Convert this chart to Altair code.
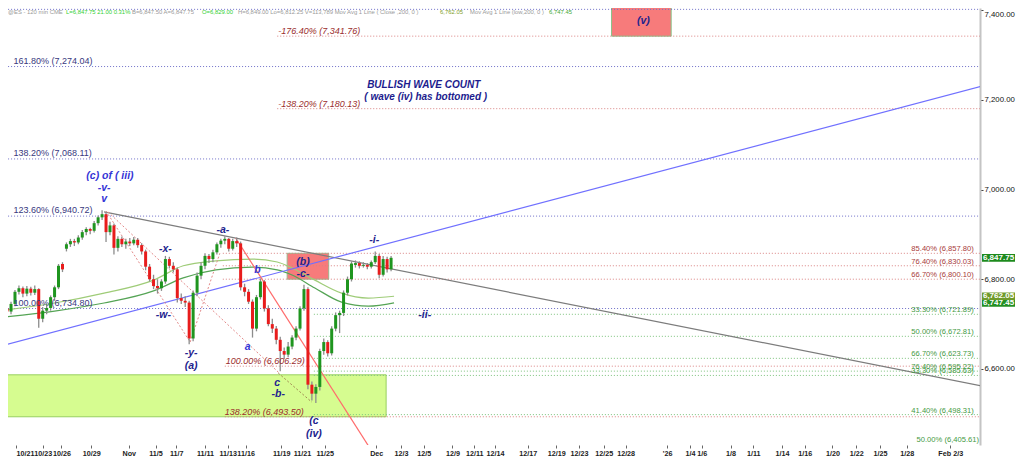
import json
import altair as alt
import pandas as pd

# ---------------- data ----------------
bar_open = [6735, 6728, 6745, 6772, 6780, 6768, 6779, 6770, 6778, 6712,
            6730, 6736, 6760, 6782, 6834, 6868, 6878, 6885, 6882, 6893,
            6905, 6912, 6908, 6925, 6938, 6945, 6905, 6920, 6870, 6890,
            6878, 6884, 6880, 6888, 6876, 6862, 6828, 6800, 6785, 6780,
            6795, 6845, 6830, 6822, 6758, 6752, 6748, 6668, 6770, 6808,
            6830, 6852, 6845, 6860, 6878, 6886, 6890, 6868, 6885, 6880,
            6782, 6772, 6750, 6690, 6760, 6795, 6735, 6700, 6690, 6665,
            6640, 6632, 6650, 6670, 6690, 6735, 6778, 6565, 6545, 6560,
            6640, 6660, 6635, 6690, 6720, 6725, 6770, 6800, 6832, 6836,
            6830, 6832, 6828, 6838, 6852, 6810, 6845, 6822]
bar_high = [6742, 6750, 6776, 6786, 6784, 6785, 6783, 6786, 6780, 6738,
            6742, 6764, 6786, 6834, 6838, 6882, 6890, 6890, 6898, 6910,
            6916, 6915, 6930, 6942, 6954, 6950, 6928, 6924, 6896, 6895,
            6890, 6892, 6894, 6892, 6880, 6866, 6834, 6810, 6800, 6800,
            6852, 6850, 6838, 6826, 6768, 6762, 6752, 6775, 6815, 6838,
            6858, 6856, 6866, 6882, 6890, 6896, 6892, 6890, 6893, 6884,
            6790, 6778, 6755, 6765, 6802, 6798, 6742, 6712, 6696, 6672,
            6648, 6660, 6675, 6695, 6740, 6788, 6782, 6572, 6566, 6645,
            6668, 6664, 6695, 6726, 6730, 6775, 6806, 6840, 6842, 6840,
            6838, 6836, 6842, 6862, 6856, 6852, 6850, 6852]
bar_low = [6718, 6722, 6740, 6766, 6760, 6762, 6764, 6765, 6692, 6704,
           6722, 6730, 6752, 6778, 6816, 6862, 6872, 6874, 6878, 6888,
           6898, 6900, 6904, 6920, 6932, 6883, 6898, 6855, 6862, 6872,
           6868, 6874, 6876, 6870, 6855, 6820, 6795, 6778, 6768, 6774,
           6790, 6824, 6815, 6748, 6745, 6738, 6655, 6662, 6762, 6800,
           6822, 6836, 6838, 6855, 6870, 6878, 6862, 6864, 6872, 6775,
           6762, 6745, 6670, 6684, 6755, 6728, 6695, 6680, 6655, 6595,
           6622, 6626, 6644, 6664, 6686, 6730, 6555, 6530, 6524, 6552,
           6632, 6628, 6630, 6684, 6680, 6718, 6764, 6795, 6826, 6824,
           6826, 6822, 6824, 6834, 6802, 6806, 6815, 6818]
bar_close = [6728, 6745, 6772, 6780, 6768, 6779, 6770, 6778, 6712, 6730,
             6736, 6760, 6782, 6830, 6822, 6878, 6885, 6882, 6893, 6905,
             6912, 6908, 6925, 6938, 6945, 6905, 6920, 6870, 6890, 6878,
             6884, 6880, 6888, 6876, 6862, 6828, 6800, 6785, 6780, 6795,
             6845, 6830, 6822, 6758, 6752, 6748, 6668, 6770, 6808, 6830,
             6852, 6845, 6860, 6878, 6886, 6890, 6868, 6885, 6880, 6782,
             6772, 6750, 6690, 6760, 6795, 6735, 6700, 6690, 6665, 6640,
             6632, 6650, 6670, 6690, 6735, 6778, 6565, 6545, 6560, 6640,
             6660, 6635, 6690, 6720, 6725, 6770, 6800, 6835, 6836, 6830,
             6832, 6828, 6838, 6852, 6810, 6845, 6822, 6847.75]

# 200-bar moving averages (close and low)
ma_bar = [-0.5, 12, 24.5, 37, 44.5, 52.75, 62, 68.25, 72, 77.75, 84.5, 91.25, 97.75]
ma_close_200 = [6731.5, 6747, 6769, 6798, 6830, 6841, 6845, 6838.5, 6825, 6798, 6769, 6758, 6762.05]
ma_low_200 = [6716, 6729, 6747, 6774, 6803, 6821, 6827, 6821, 6809.5, 6780.5, 6749, 6740, 6747.45]

# x-axis (bar index) tick labels
tick_pos = [2.25, 9.0, 13.75, 21.25, 30.75, 37.5, 42.75, 50.0, 55.75, 60.25, 69.25, 74.5,
            80.25, 93.25, 99.5, 105.25, 112.5, 118.0, 123.25, 131.5, 138.75, 144.5, 150.75,
            156.25, 166.75, 172.5, 175.5, 182.75, 188.5, 195.75, 201.5, 208.5, 214.5, 220.5,
            227.25, 238.25]
tick_labels = ["10/21", "10/23", "10/26", "10/29", "Nov", "11/5", "11/7", "11/11", "11/13",
               "11/16", "11/19", "11/21", "11/25", "Dec", "12/3", "12/5", "12/9", "12/11",
               "12/14", "12/17", "12/19", "12/23", "12/25", "12/28", "'26", "1/4", "1/6",
               "1/8", "1/11", "1/14", "1/16", "1/20", "1/22", "1/25", "1/28", "Feb 2/3"]
y_ticks = [6600, 6800, 7000, 7200, 7400]

# horizontal fibonacci levels
level_price = [7401.5, 7274.04, 7068.11, 6940.72, 6734.80,
               7341.76, 7180.13, 6857.80, 6830.03, 6800.10, 6606.29, 6493.50,
               6721.89, 6672.81, 6623.73, 6595.22, 6585.63, 6498.31]
level_from = [-0.5, -0.5, -0.5, -0.5, -0.5,
              68.25, 68.25, 54.5, 54.5, 54.5, 55, 55,
              77.5, 77.5, 77.5, 77.5, 77.5, 77.5]
level_group = ["ext"] * 5 + ["red"] * 7 + ["green"] * 6

# trend lines
trend_x1 = [24.5, -0.5, 57.75]
trend_y1 = [6950, 6653.5, 6892]
trend_x2 = [246.25, 246.25, 92.75]
trend_y2 = [6562, 7230.6, 6408.4]
trend_group = ["resistance", "channel", "c-leg"]

# dotted wave connectors
conn_x1 = [25, 25.5, 46.25, 68.5]
conn_y1 = [6952, 6950, 6660, 6591]
conn_x2 = [46.25, 68.75, 53.75, 77]
conn_y2 = [6660, 6591, 6858, 6526]
conn_group = ["red", "red", "red", "brown"]

# boxes
box_x1 = [-0.5, 70.75, 152.7]
box_x2 = [95.75, 81.25, 167.75]
box_y1 = [6493.5, 6800.1, 7341.76]
box_y2 = [6587, 6857.8, 7412]
box_kind = ["support", "wave b", "wave v"]

# labels
ext_text = ["161.80% (7,274.04)", "138.20% (7,068.11)", "123.60% (6,940.72)", "100.00% (6,734.80)"]
ext_price = [7274.04, 7068.11, 6940.72, 6734.80]
ext_bar = [1.6, 1.6, 1.6, 1.6]

red_text = ["-176.40% (7,341.76)", "-138.20% (7,180.13)", "100.00% (6,606.29)", "138.20% (6,493.50)"]
red_price = [7341.76, 7180.13, 6606.29, 6493.50]
red_bar = [68.5, 68.5, 55.25, 55.0]

right_text = ["85.40% (6,857.80)", "76.40% (6,830.03)", "66.70% (6,800.10)",
              "33.30% (6,721.89)", "50.00% (6,672.81)", "66.70% (6,623.73)",
              "76.40% (6,595.22)", "33.30% (6,585.63)", "41.40% (6,498.31)"]
right_price = [6857.80, 6830.03, 6800.10, 6721.89, 6672.81, 6623.73, 6595.22, 6585.63, 6498.31]
right_group = ["red"] * 3 + ["green"] * 6
right_bar = [244.2] * 9
bottom_label = "50.00% (6,405.61)"

wave_text = ["(c) of ( iii)", "-v-", "v", "-x-", "-w-", "-y-", "(a)", "-a-", "b", "a",
             "c", "-b-", "(c", "(iv)", "(b)", "-c-", "-i-", "-ii-", "(v)"]
wave_bar = [26, 24.5, 24.5, 40, 39.5, 46.5, 46.5, 54.5, 63.25, 60.75,
            68.25, 68.5, 77.5, 77.5, 74.75, 74.75, 92.75, 105.5, 160.75]
wave_price = [7030.1, 7003.3, 6978.8, 6867.4, 6720.3, 6635.7, 6606.7, 6909.8, 6820.6, 6649,
              6568.8, 6544.3, 6484.1, 6455.2, 6838.4, 6811.7, 6887.5, 6720.3, 7375.5]
wave_group = ["blue", "blue", "blue", "navy", "navy", "navy", "navy", "navy", "blue", "blue",
              "navy", "navy", "navy", "navy", "navy", "navy", "navy", "navy", "navy"]

note_text = ["BULLISH  WAVE  COUNT", "( wave (iv) has bottomed )"]
note_bar = [105.25, 105.75]
note_price = [7232.9, 7206.1]

badge_price = [6847.75, 6747.45, 6762.05]
badge_text = ["6,847.75", "6,747.45", "6,762.05"]
badge_kind = ["last", "ma low", "ma close"]

header_parts = ["@ES - 120 min CME", "L=6,847.75 21.00 0.31%", "B=6,847.50 A=6,847.75",
                "O=6,829.00", "H=6,849.00  Lo=6,812.25  V=113,789  Mov Avg 1 Line ( Close ,200, 0 )",
                "6,762.05", "Mov Avg 1 Line (low,200, 0 )", "6,747.45"]

# ---------------- chart ----------------
W, H = 972, 437
FONT = "Liberation Sans"
xs = alt.Scale(domain=[1.5, 244.5], nice=False, zero=False)
ys = alt.Scale(domain=[6430.6, 7404.5], nice=False, zero=False)

label_expr = ("[" + ",".join(json.dumps(t) for t in tick_labels) + "][indexof(["
              + ",".join(repr(p) for p in tick_pos) + "], datum.value)]")
xax = alt.Axis(values=tick_pos, labelExpr=label_expr, title=None, grid=False, domain=False,
               tickSize=3, tickColor="#666666", labelFont=FONT, labelFontSize=7.2,
               labelFontWeight="bold", labelColor="#222222", labelPadding=1, labelFlush=8,
               labelOverlap=False, labelBound=False)
yax = alt.Axis(orient="right", values=y_ticks, format=",.2f", title=None, grid=False,
               domainColor="#c4c4c4", domainWidth=2, tickSize=3, tickColor="#444444",
               labelFont=FONT, labelFontSize=7.8, labelColor="#111111", labelPadding=1,
               labelOverlap=False,
               labelBaseline={"condition": {"test": "datum.value >= 7400", "value": "top"},
                              "value": "middle"})


def X(f):
    return alt.X(f, type="quantitative", scale=xs, axis=xax)


def Y(f):
    return alt.Y(f, type="quantitative", scale=ys, axis=yax)


candles = pd.DataFrame({"bar": list(range(len(bar_close))), "open": bar_open,
                        "high": bar_high, "low": bar_low, "close": bar_close})
candles["dir"] = ["up" if c >= o else "down" for o, c in zip(bar_open, bar_close)]

boxes = pd.DataFrame({"x1": box_x1, "x2": box_x2, "y1": box_y1, "y2": box_y2, "kind": box_kind})
box_layer = alt.Chart(boxes).mark_rect(clip=True, strokeWidth=1).encode(
    x=X("x1"), x2="x2", y=Y("y1"), y2="y2",
    fill=alt.Fill("kind:N", scale=alt.Scale(domain=box_kind, range=["#d6fc90", "#f77b7b", "#f77b7b"]), legend=None),
    stroke=alt.Stroke("kind:N", scale=alt.Scale(domain=box_kind, range=["#98d060", "#9cb58c", "#86c286"]), legend=None),
)

levels = pd.DataFrame({"price": level_price, "start": level_from, "group": level_group})
level_layer = alt.Chart(levels).mark_rule(strokeDash=[1, 2], strokeWidth=1, clip=True).encode(
    x=X("start"), x2=alt.value(W), y=Y("price"),
    color=alt.Color("group:N", scale=alt.Scale(domain=["ext", "red", "green"],
                                               range=["#7070c8", "#d98080", "#7cc27c"]), legend=None),
)

ma = pd.DataFrame({"bar": ma_bar * 2, "value": ma_close_200 + ma_low_200,
                   "series": ["close"] * len(ma_bar) + ["low"] * len(ma_bar)})
ma_layer = alt.Chart(ma).mark_line(strokeWidth=1.2, clip=True, interpolate="monotone").encode(
    x=X("bar"), y=Y("value"), detail="series:N",
    color=alt.Color("series:N", scale=alt.Scale(domain=["close", "low"], range=["#9fcc78", "#55a455"]), legend=None),
)

trend = pd.DataFrame({"x1": trend_x1, "y1": trend_y1, "x2": trend_x2, "y2": trend_y2, "g": trend_group})
trend_layer = alt.Chart(trend).mark_rule(strokeWidth=1.2, clip=True).encode(
    x=X("x1"), y=Y("y1"), x2="x2", y2="y2",
    color=alt.Color("g:N", scale=alt.Scale(domain=trend_group, range=["#7c7c7c", "#7070ff", "#ff6b6b"]), legend=None),
)

conn = pd.DataFrame({"x1": conn_x1, "y1": conn_y1, "x2": conn_x2, "y2": conn_y2, "g": conn_group})
conn_layer = alt.Chart(conn).mark_rule(strokeWidth=1, strokeDash=[2, 2], clip=True).encode(
    x=X("x1"), y=Y("y1"), x2="x2", y2="y2",
    color=alt.Color("g:N", scale=alt.Scale(domain=["red", "brown"], range=["#e38a8a", "#a08850"]), legend=None),
)

wick_layer = alt.Chart(candles).mark_rule(color="#8c8c8c", strokeWidth=1.3, clip=True).encode(
    x=X("bar"), y=Y("low"), y2="high")
body_layer = alt.Chart(candles).mark_bar(width=3, clip=True).encode(
    x=X("bar"), y=Y("open"), y2="close",
    color=alt.Color("dir:N", scale=alt.Scale(domain=["up", "down"], range=["#1f951f", "#e81c1c"]), legend=None),
)

ext_df = pd.DataFrame({"t": ext_text, "p": ext_price, "b": ext_bar})
ext_layer = alt.Chart(ext_df).mark_text(align="left", baseline="bottom", dy=-1, font=FONT,
                                        fontSize=9, color="#383880").encode(
    x=X("b"), y=Y("p"), text="t")

red_df = pd.DataFrame({"t": red_text, "p": red_price, "b": red_bar})
red_layer = alt.Chart(red_df).mark_text(align="left", baseline="bottom", dy=0, font=FONT,
                                        fontSize=9, fontStyle="italic", color="#9b2d2d").encode(
    x=X("b"), y=Y("p"), text="t")

right_df = pd.DataFrame({"t": right_text, "p": right_price, "g": right_group, "b": right_bar})
right_layer = alt.Chart(right_df).mark_text(align="right", baseline="bottom", font=FONT,
                                            fontSize=7.6).encode(
    x=X("b"), y=Y("p"), text="t",
    color=alt.Color("g:N", scale=alt.Scale(domain=["red", "green"], range=["#a83a3a", "#3f9a3f"]), legend=None),
)

# the 50% level lies just below the visible price range: its label sits on the bottom edge
bottom_layer = alt.Chart(pd.DataFrame({"t": [bottom_label]})).mark_text(
    align="right", baseline="bottom", font=FONT, fontSize=7.6, color="#3f9a3f").encode(
    x=alt.value(W - 1), y=alt.value(H - 1), text="t")

wave_df = pd.DataFrame({"t": wave_text, "b": wave_bar, "p": wave_price, "g": wave_group})
wave_layer = alt.Chart(wave_df).mark_text(align="center", baseline="middle", font=FONT,
                                          fontSize=10.5, fontStyle="italic", fontWeight="bold").encode(
    x=X("b"), y=Y("p"), text="t",
    color=alt.Color("g:N", scale=alt.Scale(domain=["blue", "navy"], range=["#3535d6", "#23238e"]), legend=None),
)

note_df = pd.DataFrame({"t": note_text, "b": note_bar, "p": note_price})
note_layer = alt.Chart(note_df).mark_text(align="center", baseline="middle", font=FONT,
                                          fontSize=10, fontStyle="italic", fontWeight="bold",
                                          color="#1c1c8e").encode(
    x=X("b"), y=Y("p"), text="t")

badge_df = pd.DataFrame({"t": badge_text, "p": badge_price, "k": badge_kind})
badge_df["lo"] = badge_df["p"] - 8.5
badge_df["hi"] = badge_df["p"] + 8.5
badge_rect = alt.Chart(badge_df).mark_rect().encode(
    x=alt.value(W + 2), x2=alt.value(W + 35), y=Y("lo"), y2="hi",
    fill=alt.Fill("k:N", scale=alt.Scale(domain=badge_kind, range=["#1d8a1d", "#238f23", "#6f9a2a"]), legend=None),
)
badge_text_layer = alt.Chart(badge_df).mark_text(align="center", baseline="middle", font=FONT,
                                                 fontSize=8, fontWeight="bold", color="white").encode(
    x=alt.value(W + 18.5), y=Y("p"), text="t")

header_colors = ["#9a9a9a", "#33d033", "#9a9a9a", "#33d033", "#9a9a9a", "#7fa02c", "#9a9a9a", "#45a838"]
header_x = [0, 58, 124, 194, 230, 432, 462, 541]
header_layers = []
for txt, col, hx in zip(header_parts, header_colors, header_x):
    header_layers.append(
        alt.Chart(pd.DataFrame({"t": [txt]})).mark_text(
            align="left", baseline="middle", font=FONT, fontSize=5.9, color=col).encode(
            x=alt.value(hx), y=alt.value(4), text="t")
    )

chart = alt.layer(
    box_layer, level_layer, ma_layer, trend_layer, conn_layer, wick_layer, body_layer,
    ext_layer, red_layer, right_layer, bottom_layer, wave_layer, note_layer, badge_rect,
    badge_text_layer, *header_layers,
).resolve_scale(color="independent", fill="independent", stroke="independent").properties(
    width=W, height=H,
    autosize=alt.AutoSizeParams(type="none"),
    padding={"left": 0, "top": 0, "right": 36, "bottom": 13},
    background="white",
).configure_view(stroke=None)

chart.save("out.html", embed_options={"renderer": "svg", "actions": False})
